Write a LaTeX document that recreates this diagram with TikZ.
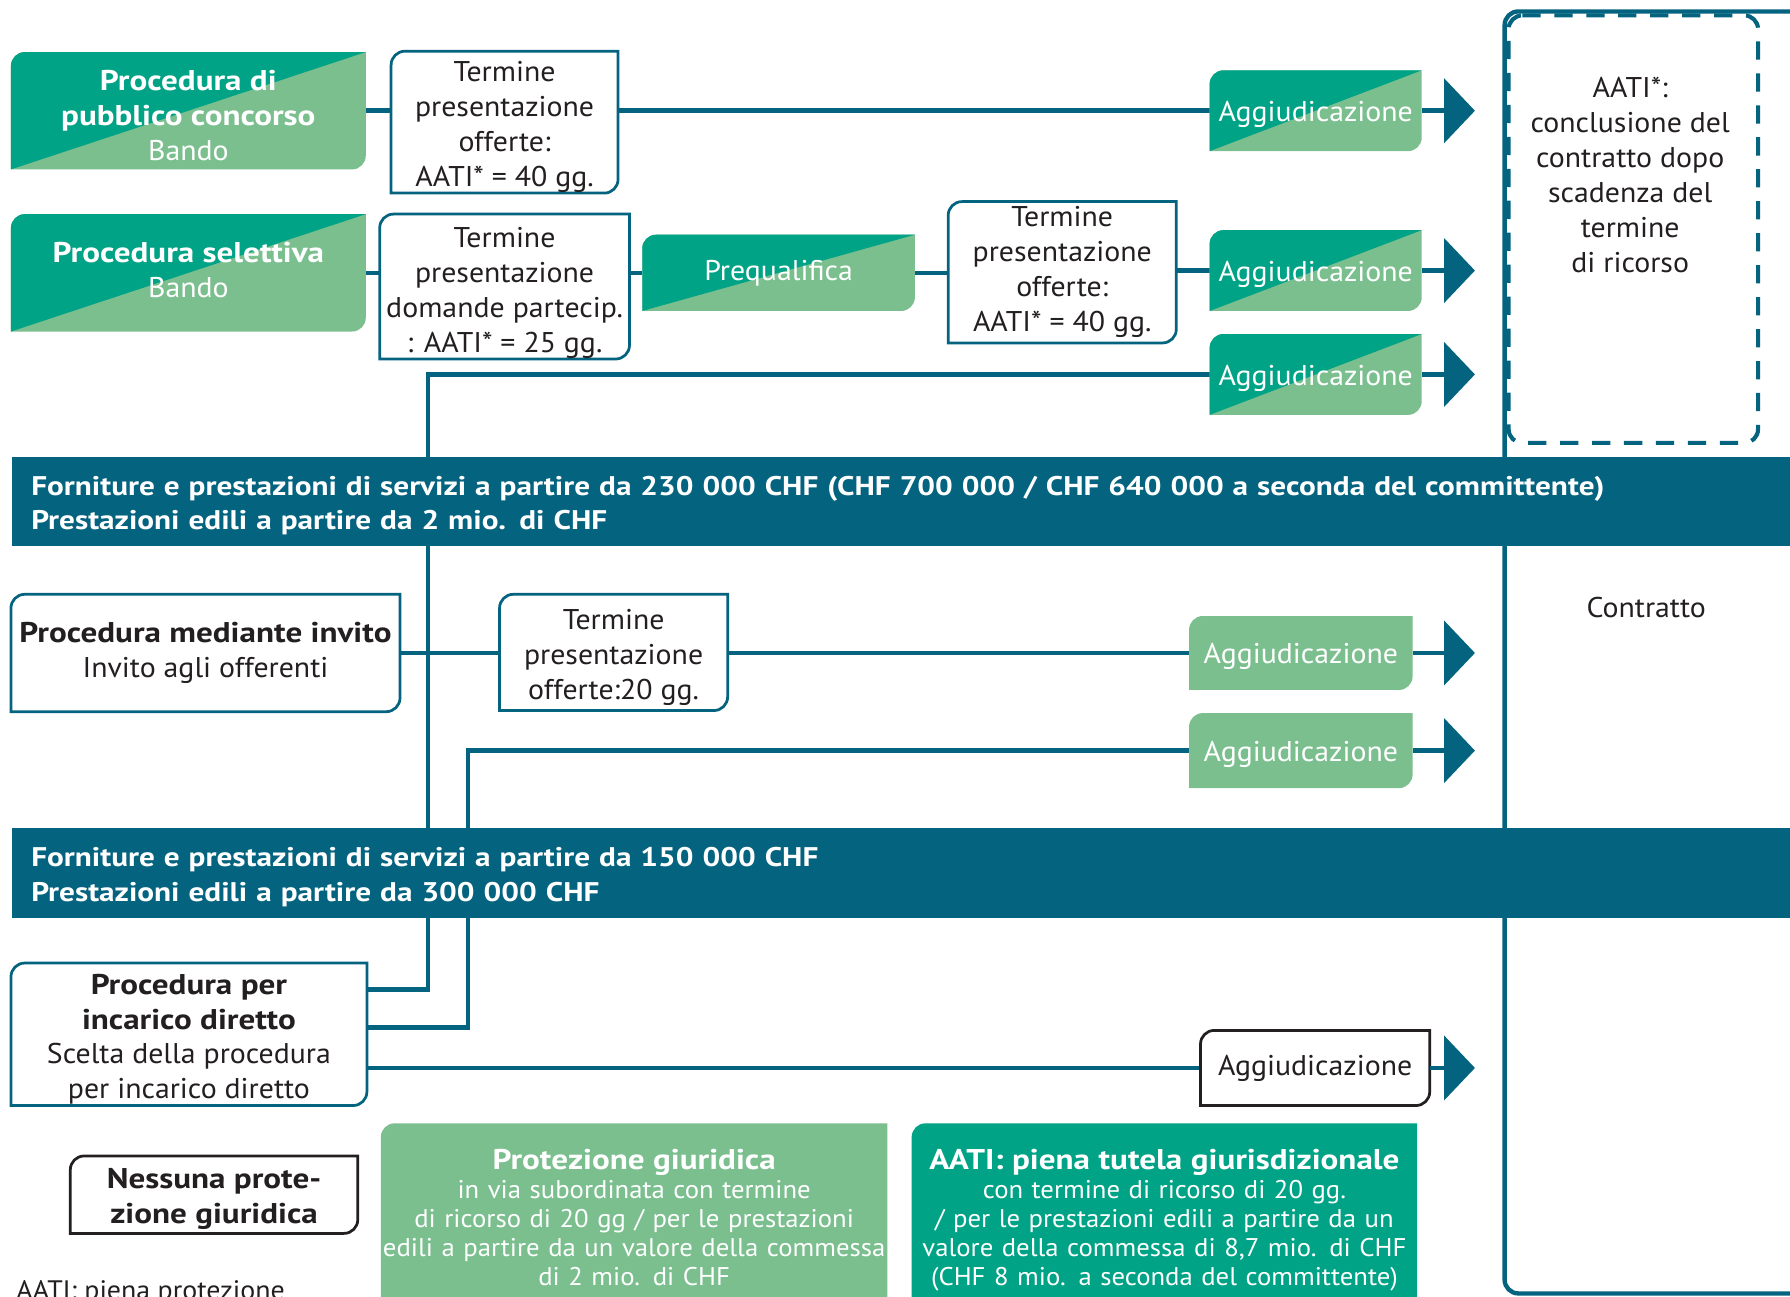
\documentclass[tikz,border=0pt]{standalone}
\usepackage{fontspec}
\setmainfont{PT Sans}[FakeStretch=1.045, BoldFeatures={FakeStretch=1.16}]
\usetikzlibrary{calc,arrows.meta}
\definecolor{dblue}{HTML}{04637F}
\definecolor{tealc}{HTML}{00A385}
\definecolor{lgreen}{HTML}{7BBF8F}
\definecolor{ink}{HTML}{231F20}
\pgfdeclarelayer{lines}
\pgfdeclarelayer{fills}
\pgfsetlayers{lines,fills,main}
\newcommand\crad{12}
\newcommand\upstrut[1]{\rule{0pt}{#1}}
\newcommand\tlbr[1]{(#1.south west) -- ($(#1.north west)+(0,\crad)$) .. controls ($(#1.north west)+(0,0.45*\crad)$) and ($(#1.north west)+(0.45*\crad,0)$) .. ($(#1.north west)+(\crad,0)$) -- (#1.north east) -- ($(#1.south east)+(0,-\crad)$) .. controls ($(#1.south east)+(0,-0.45*\crad)$) and ($(#1.south east)+(-0.45*\crad,0)$) .. ($(#1.south east)+(-\crad,0)$) -- cycle}
\tikzset{
  base/.style={rectangle, inner sep=0pt, align=center, font=\fontsize{12.5}{15.3}\selectfont, text=ink},
  lower/.style={execute at begin node={\rule{0pt}{12.2pt}}},
  sz/.style 2 args={minimum width=#1, minimum height=#2},
  wtext/.style={text=white},
  conn/.style={draw=dblue, line width=2pt},
  arr/.style={conn, -{Triangle[length=13.5pt,width=28pt]}},
  banner/.style={rectangle, fill=dblue, text=white, anchor=west, minimum height=39pt, text width=780pt, inner xsep=8.5pt, inner ysep=0pt, align=left, font=\bfseries\fontsize{11.8}{15}\selectfont, lower},
  blueedge/.style={fill=white, draw=dblue, line width=1.2pt},
  blackedge/.style={fill=white, draw=ink, line width=1.2pt},
  legend/.style={base, anchor=north, inner xsep=0pt, inner ysep=7.8pt, text=white, font=\fontsize{11.2}{12.8}\selectfont},
  framec/.style={draw=dblue, line width=1.9pt, rounded corners=6pt},
  dashc/.style={draw=dblue, line width=1.8pt, dash pattern=on 8pt off 6pt, rounded corners=6pt},
}
\begin{document}
\begin{tikzpicture}[x=0.5pt,y=-0.5pt]
\useasboundingbox (0,0) rectangle (1568,1136);
% nodes
\node[base,wtext,sz={155pt}{51pt}] (A) at (165,97) {\upstrut{13.2pt}\textbf{Procedura di}\\\textbf{pubblico concorso}\\Bando};
\node[base,sz={99pt}{61pt}] (T1) at (442,107) {\upstrut{13.2pt}Termine\\presentazione\\offerte:\\AATI* = 40 gg.};
\node[base,wtext,sz={155pt}{51pt},execute at end node={\rule[-2.5pt]{0pt}{0pt}}] (B) at (165,239) {\textbf{Procedura selettiva}\\Bando};
\node[base,sz={109pt}{63pt}] (T2) at (442,251) {\upstrut{14.5pt}Termine\\presentazione\\domande partecip.\\: AATI* = 25 gg.};
\node[base,wtext,sz={119pt}{33pt}] (Pre) at (682,239) {Prequalifica};
\node[base,sz={99.5pt}{61.5pt}] (T3) at (930.5,238.5) {Termine\\presentazione\\offerte:\\AATI* = 40 gg.};
\node[base,lower,wtext,sz={92.5pt}{35pt}] (agg1) at (1152.5,97) {Aggiudicazione};
\node[base,lower,wtext,sz={92.5pt}{35pt}] (agg2) at (1152.5,237) {Aggiudicazione};
\node[base,lower,wtext,sz={92.5pt}{35pt}] (agg3) at (1152.5,328) {Aggiudicazione};
\node[base,sz={170pt}{51pt}] (C) at (180,572) {\textbf{Procedura mediante invito}\\Invito agli offerenti};
\node[base,sz={99.5pt}{50.5pt}] (T4) at (537.5,571.5) {\upstrut{13pt}Termine\\presentazione\\offerte:20 gg.};
\node[base,lower,wtext,sz={97.5pt}{32pt}] (agg4) at (1139.5,572) {Aggiudicazione};
\node[base,lower,wtext,sz={97.5pt}{32.5pt}] (agg5) at (1139.5,657.5) {Aggiudicazione};
\node[base,sz={155.5pt}{62pt}] (D) at (165.5,906) {\upstrut{13.2pt}\textbf{Procedura per}\\\textbf{incarico diretto}\\Scelta della procedura\\per incarico diretto};
\node[base,sz={100pt}{32.5pt}] (agg6) at (1152,935.5) {Aggiudicazione};
\node[base,sz={125.5pt}{33.5pt}] (ness) at (187.5,1046.5) {\upstrut{12.4pt}\textbf{Nessuna prote-}\\\textbf{zione giuridica}};
\node[legend,text width=221.5pt] (prot) at (555.5,984) {{\fontsize{12.5}{12.8}\selectfont\bfseries\rule{0pt}{12pt}Protezione giuridica}\\in via subordinata con termine\\di ricorso di 20 gg / per le prestazioni\\edili a partire da un valore della commessa\\di 2 mio. di CHF};
\node[legend,text width=221pt] (aati) at (1020,984) {{\fontsize{12.5}{12.8}\selectfont\bfseries\rule{0pt}{12pt}AATI: piena tutela giurisdizionale}\\con termine di ricorso di 20 gg.\\/ per le prestazioni edili a partire da un\\valore della commessa di 8,7 mio. di CHF\\(CHF 8 mio. a seconda del committente)};
\node[base] (dtext) at (1428,153) {AATI*:\\conclusione del\\contratto dopo\\scadenza del\\termine\\di ricorso};
\node[base] (contr) at (1442,532) {Contratto};
\node[base,anchor=north west,font=\fontsize{11.7}{14}\selectfont] (foot) at (14,1121) {AATI: piena protezione};
% banners
\node[banner] (ban1) at (10,439) {Forniture e prestazioni di servizi a partire da 230 000 CHF (CHF 700 000 / CHF 640 000 a seconda del committente)\\Prestazioni edili a partire da 2 mio. di CHF};
\node[banner,minimum height=39.5pt] (ban2) at (10,764.5) {Forniture e prestazioni di servizi a partire da 150 000 CHF\\Prestazioni edili a partire da 300 000 CHF};
% coordinates
\coordinate (j1) at (375,500);
\coordinate (j2) at (410,700);
\coordinate (tip) at (1292,0);
% connectors
\begin{pgfonlayer}{lines}
\draw[conn] (A.east) -- (A.east -| T1.west);
\draw[conn] (T1.east |- agg1.west) -- (agg1.west);
\draw[conn] (B.east) -- (B.east -| T2.west);
\draw[conn] (T2.east |- Pre.west) -- (Pre.west);
\draw[conn] (Pre.east) -- (Pre.east -| T3.west);
\draw[conn] (T3.east |- agg2.west) -- (agg2.west);
\draw[conn] ([yshift=19.5pt]D.east) -| (j1) |- (agg3.west);
\draw[conn] (C.east) -- (C.east -| T4.west);
\draw[conn] (T4.east |- agg4.west) -- (agg4.west);
\draw[conn] ([yshift=3pt]D.east) -| (j2) |- (agg5.west);
\draw[conn] (D.east |- agg6.west) -- (agg6.west);
% frame
\draw[framec] (1318,10) rectangle (1720,1133);
\draw[dashc] (1321.5,13.5) -- (1540,13.5) -- (1540,388) -- (1321.5,388) -- cycle;
\end{pgfonlayer}
% fills
\begin{pgfonlayer}{fills}
\foreach \n in {A,B,Pre,agg1,agg2,agg3}{
  \fill[lgreen] \tlbr{\n};
  \begin{scope}
    \clip \tlbr{\n};
    \fill[tealc] (\n.south west) -- (\n.north west) -- (\n.north east) -- cycle;
  \end{scope}
}
\foreach \n in {agg4,agg5}{\fill[lgreen] \tlbr{\n};}
\foreach \n in {T1,T2,T3,T4,C,D}{\filldraw[blueedge] \tlbr{\n};}
\foreach \n in {agg6,ness}{\filldraw[blackedge] \tlbr{\n};}
\fill[lgreen] ($(prot.north west)+(0,\crad)$) .. controls ($(prot.north west)+(0,0.45*\crad)$) and ($(prot.north west)+(0.45*\crad,0)$) .. ($(prot.north west)+(\crad,0)$) -- (prot.north east) -- ($(prot.north east)+(0,250)$) -- ($(prot.north west)+(0,250)$) -- cycle;
\fill[tealc] ($(aati.north west)+(0,\crad)$) .. controls ($(aati.north west)+(0,0.45*\crad)$) and ($(aati.north west)+(0.45*\crad,0)$) .. ($(aati.north west)+(\crad,0)$) -- (aati.north east) -- ($(aati.north east)+(0,250)$) -- ($(aati.north west)+(0,250)$) -- cycle;
\foreach \n in {agg1,agg2,agg3,agg4,agg5,agg6}{\draw[arr] (\n.east) -- (\n.east -| tip);}
\end{pgfonlayer}
\end{tikzpicture}
\end{document}
